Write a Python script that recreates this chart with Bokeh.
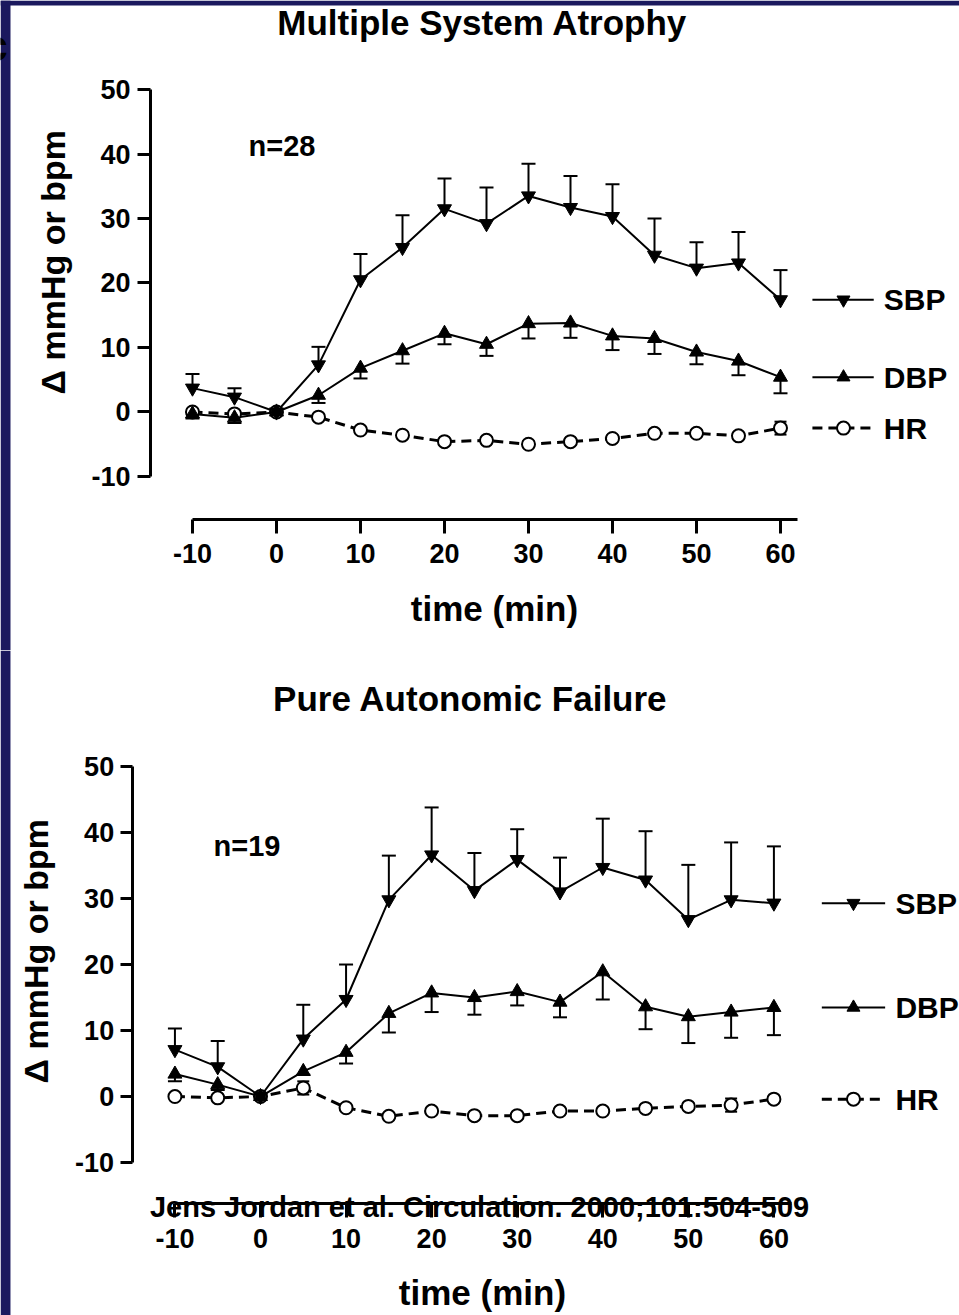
import numpy as np
from bokeh.plotting import figure
from bokeh.models import (Range1d, FixedTicker, Whisker, TeeHead, ColumnDataSource,
                          Label, BoxAnnotation)
from bokeh.layouts import column
from bokeh.embed import file_html
from bokeh.resources import INLINE
from bokeh.core.properties import value

# ---------------- data ----------------
time_min = [-10, -5, 0, 5, 10, 15, 20, 25, 30, 35, 40, 45, 50, 55, 60]
x_ticks = [-10, 0, 10, 20, 30, 40, 50, 60]
y_ticks = [-10, 0, 10, 20, 30, 40, 50]

msa_title = "Multiple System Atrophy"
msa_n = "n=28"
msa_sbp = [3.7, 2.3, 0.0, 7.3, 20.5, 25.5, 31.5, 29.2, 33.5, 31.7, 30.3, 24.3, 22.3, 23.1, 17.4]
msa_sbp_err = [2.2, 1.4, 0.0, 2.8, 4.0, 5.0, 4.7, 5.6, 5.0, 4.9, 5.0, 5.7, 4.0, 4.8, 4.6]
msa_dbp = [-0.3, -0.9, 0.0, 2.6, 6.8, 9.5, 12.2, 10.5, 13.7, 13.8, 11.8, 11.4, 9.3, 7.9, 5.4]
msa_dbp_err = [0.7, 0.8, 0.0, 1.2, 1.6, 2.0, 1.7, 1.8, 2.3, 2.3, 2.2, 2.4, 1.9, 2.2, 2.5]
msa_hr = [0.0, -0.3, 0.0, -0.8, -2.8, -3.6, -4.6, -4.4, -5.0, -4.6, -4.1, -3.3, -3.3, -3.7, -2.5]
msa_hr_err = [0.5, 0.5, 0.0, 0.5, 0.5, 0.5, 0.5, 0.5, 0.5, 0.5, 0.5, 0.5, 0.5, 0.5, 1.0]

paf_title = "Pure Autonomic Failure"
paf_n = "n=19"
paf_sbp = [7.1, 4.5, 0.0, 8.7, 14.7, 29.8, 36.6, 31.2, 35.9, 31.0, 34.7, 32.8, 26.8, 29.8, 29.3]
paf_sbp_err = [3.2, 3.9, 0.0, 5.2, 5.3, 6.7, 7.2, 5.7, 4.6, 5.2, 7.4, 7.4, 8.3, 8.7, 8.6]
paf_dbp = [3.4, 1.8, 0.0, 3.8, 6.7, 12.6, 15.7, 15.0, 15.9, 14.3, 18.9, 13.6, 12.1, 12.8, 13.5]
paf_dbp_err = [1.1, 0.8, 0.0, 0.5, 1.7, 2.9, 2.9, 2.6, 2.1, 2.3, 4.2, 3.4, 4.0, 3.9, 4.2]
paf_hr = [0.0, -0.2, 0.0, 1.3, -1.7, -3.0, -2.2, -2.9, -2.9, -2.2, -2.2, -1.8, -1.5, -1.3, -0.4]
paf_hr_err = [0.5, 0.5, 0.0, 1.0, 0.5, 0.5, 0.5, 0.5, 0.5, 0.5, 0.5, 0.5, 0.5, 1.0, 0.5]

x_label = "time (min)"
y_label = "\u0394 mmHg  or bpm"
citation = "Jens Jordan et al. Circulation. 2000;101:504-509"

# ---------------- style ----------------
NAVY = "#1b195e"
FONT = "Liberation Sans"


def add_err(p, t, v, e, direction):
    idx = [i for i in range(len(t)) if e[i] > 0]
    xs = [t[i] for i in idx]
    base = [v[i] for i in idx]
    up = [v[i] + e[i] for i in idx]
    dn = [v[i] - e[i] for i in idx]
    if direction == "up":
        lo, hi = base, up
        uh, lh = TeeHead(size=14, line_width=2), None
    elif direction == "down":
        lo, hi = dn, base
        uh, lh = None, TeeHead(size=14, line_width=2)
    else:
        lo, hi = dn, up
        uh, lh = TeeHead(size=12, line_width=2), TeeHead(size=12, line_width=2)
    src = ColumnDataSource(dict(x=xs, lower=lo, upper=hi))
    w = Whisker(base="x", lower="lower", upper="upper", source=src, dimension="height",
                line_color="black", line_width=2, upper_head=uh, lower_head=lh)
    p.add_layout(w)


def txt(p, x, y, text, size, align="left", baseline="middle", angle=0.0):
    p.add_layout(Label(x=x, y=y, text=text, angle=angle, text_align=align,
                       text_baseline=baseline, text_font=FONT, text_font_style="bold",
                       text_font_size=size, text_color="black"))


def make_panel(width, height, xr, yr, x_axis_at, y_axis_at, title, title_xy, n_text, n_xy,
               sbp, sbp_err, dbp, dbp_err, hr, hr_err, leg_off, ylab_xy, xlab_xy,
               tick_std, ylab_std, ytick_len, strip_right, strip_bottom=None):
    p = figure(width=width, height=height, output_backend="svg", toolbar_location=None,
               x_range=Range1d(*xr), y_range=Range1d(*yr),
               min_border_left=0, min_border_right=0, min_border_top=0, min_border_bottom=0)
    p.outline_line_color = None
    p.grid.visible = False
    p.background_fill_color = "white"
    p.border_fill_color = "white"

    # dark slide frame (left strip, optional top strip)
    p.add_layout(BoxAnnotation(right=strip_right, fill_color=NAVY, fill_alpha=1.0,
                               line_color=None, level="underlay"))
    if strip_bottom is not None:
        p.add_layout(BoxAnnotation(bottom=strip_bottom, fill_color=NAVY, fill_alpha=1.0,
                                   line_color=None, level="underlay"))

    for ax, ticks in ((p.xaxis[0], x_ticks), (p.yaxis[0], y_ticks)):
        ax.ticker = FixedTicker(ticks=ticks)
        ax.minor_tick_line_color = None
        ax.axis_line_width = 3
        ax.major_tick_line_width = 3
        ax.major_tick_in = 0
        ax.major_label_text_font = FONT
        ax.major_label_text_font_style = "bold"
        ax.major_label_text_font_size = "27px"
        ax.major_label_text_color = "black"
        ax.axis_line_color = "black"
        ax.major_tick_line_color = "black"
        ax.major_label_overrides = {-10: "-10"}
    p.xaxis[0].fixed_location = x_axis_at
    p.yaxis[0].fixed_location = y_axis_at
    p.xaxis[0].bounds = (-10, 62)
    p.yaxis[0].bounds = (-10, 50)
    p.xaxis[0].major_tick_out = 14
    p.yaxis[0].major_tick_out = ytick_len
    p.xaxis[0].major_label_standoff = tick_std
    p.yaxis[0].major_label_standoff = ylab_std

    # axis labels, title and n
    txt(p, ylab_xy[0], ylab_xy[1], y_label, "34px", align="center", angle=np.pi / 2)
    txt(p, xlab_xy[0], xlab_xy[1], x_label, "35px", align="center")
    txt(p, title_xy[0], title_xy[1], title, "35px", align="center")
    txt(p, n_xy[0], n_xy[1], n_text, "29px")

    # error bars
    add_err(p, time_min, sbp, sbp_err, "up")
    add_err(p, time_min, dbp, dbp_err, "down")
    add_err(p, time_min, hr, hr_err, "both")

    # lines
    p.line(time_min, sbp, line_color="black", line_width=2)
    p.line(time_min, dbp, line_color="black", line_width=2)
    p.line(time_min, hr, line_color="black", line_width=3, line_dash="10 6")
    # markers
    p.scatter(time_min, hr, marker="circle", size=13, fill_color="white",
              line_color="black", line_width=2)
    p.scatter(time_min, dbp, marker="triangle", size=14, fill_color="black",
              line_color="black", line_width=1)
    p.scatter(time_min, sbp, marker="inverted_triangle", size=14, fill_color="black",
              line_color="black", line_width=1)

    # legend entries placed at the last value of each series
    t_last = time_min[-1]
    x0, xm, x1, xt = (t_last + o for o in leg_off)
    for name, ser, mk, dash, lw in (("SBP", sbp, "inverted_triangle", "solid", 2),
                                   ("DBP", dbp, "triangle", "solid", 2),
                                   ("HR", hr, "circle", "10 6", 3)):
        yv = ser[-1]
        p.line([x0, x1], [yv, yv], line_color="black", line_width=lw, line_dash=dash)
        if mk == "circle":
            p.scatter([xm], [yv], marker=mk, size=13, fill_color="white",
                      line_color="black", line_width=2)
        else:
            p.scatter([xm], [yv], marker=mk, size=13, fill_color="black", line_color="black")
        p.text([xt], [yv], text=[name], text_align="left", text_baseline="middle",
               text_font=value(FONT), text_font_style="bold", text_font_size="30px",
               text_color="black")
    return p


# page px: x = 276 + 8.4*t, y = 411.5 - 6.45*v  (top panel occupies page y 0..650)
p1 = make_panel(959, 650, (-32.857, 81.31), (-36.98, 63.80), -16.67, -15,
                msa_title, (24.52, 60.39), msa_n, (-3.33, 41.3),
                msa_sbp, msa_sbp_err, msa_dbp, msa_dbp_err, msa_hr, msa_hr_err,
                (3.8, 7.5, 11.1, 12.3), (-26.55, 23.95), (25.95, -30.47),
                tick_std=10, ylab_std=7, ytick_len=13,
                strip_right=-31.667, strip_bottom=63.03)
# partly hidden panel letter at the slide's left edge
txt(p1, -34.9, 56.8, "c", "44px", align="left", baseline="alphabetic")

# page px: x = 260 + 8.557*t, y = 1096 - 6.6*v  (bottom panel occupies page y 650..1315)
p2 = make_panel(959, 665, (-30.385, 81.69), (-33.18, 67.58), -16.21, -15,
                paf_title, (24.54, 60.30), paf_n, (-5.49, 38.03),
                paf_sbp, paf_sbp_err, paf_dbp, paf_dbp_err, paf_hr, paf_hr_err,
                (5.6, 9.3, 13.0, 14.2), (-26.29, 22.73), (25.94, -29.75),
                tick_std=11, ylab_std=6, ytick_len=12,
                strip_right=-29.22)
txt(p2, 25.6, -16.8, citation, "29px", align="center", baseline="alphabetic")

layout = column(p1, p2, spacing=0)

open("out.html", "w").write(file_html(layout, INLINE))
